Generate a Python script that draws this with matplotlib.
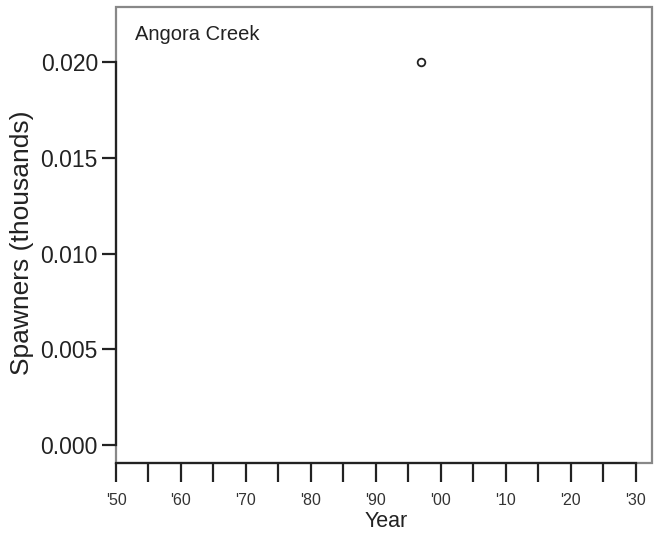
import matplotlib
matplotlib.use('Agg')
import matplotlib.pyplot as plt
from matplotlib.patches import Rectangle

plt.rcParams['font.family'] = ['Liberation Sans', 'DejaVu Sans']

# data
years = [1997]
spawners = [0.020]
site = 'Angora Creek'

x_ticks = list(range(1950, 2031, 5))
x_labels = ["'%02d" % (y % 100) if y % 10 == 0 else '' for y in x_ticks]
y_ticks = [0.000, 0.005, 0.010, 0.015, 0.020]
y_labels = ['%.3f' % v for v in y_ticks]

fig = plt.figure(figsize=(6.55, 5.41), dpi=100)
ax = fig.add_axes([0.1771, 0.1447, 0.8183, 0.8423])

ax.plot(years, spawners, 'o', mfc='none', mec='#222222', mew=1.3, ms=5.5)

ax.set_xlim(1950, 2032.5)
ax.set_ylim(-0.00092, 0.02287)

# light frame round the plot region
ax.add_patch(Rectangle((0, 0), 1, 1, transform=ax.transAxes, fill=False,
                       ec='#888888', lw=1.6, clip_on=False, zorder=1))

for s in ['top', 'right']:
    ax.spines[s].set_visible(False)
ax.spines['left'].set_bounds(0.0, 0.020)
ax.spines['bottom'].set_bounds(1950, 2030)
for s in ['left', 'bottom']:
    ax.spines[s].set_color('#222222')
    ax.spines[s].set_linewidth(1.6)
    ax.spines[s].set_zorder(3)

ax.set_xticks(x_ticks)
ax.set_xticklabels(x_labels, fontsize=11.5, color='#333333')
ax.set_yticks(y_ticks)
ax.set_yticklabels(y_labels, fontsize=16.5, color='#222222')
ax.tick_params(axis='x', length=14, width=1.6, color='#222222', pad=8)
ax.tick_params(axis='y', length=10, width=1.6, color='#222222', pad=3)

ax.set_xlabel('Year', fontsize=15.5, color='#222222', va='center')
ax.xaxis.set_label_coords(0.504, -0.128)
ax.set_ylabel('Spawners (thousands)', fontsize=19, color='#222222', va='center')
ax.yaxis.set_label_coords(-0.175, 0.483)

ax.text(0.035, 0.96, site, transform=ax.transAxes, fontsize=14.5,
        color='#222222', va='top', ha='left')

fig.savefig('out.png', dpi=100)
